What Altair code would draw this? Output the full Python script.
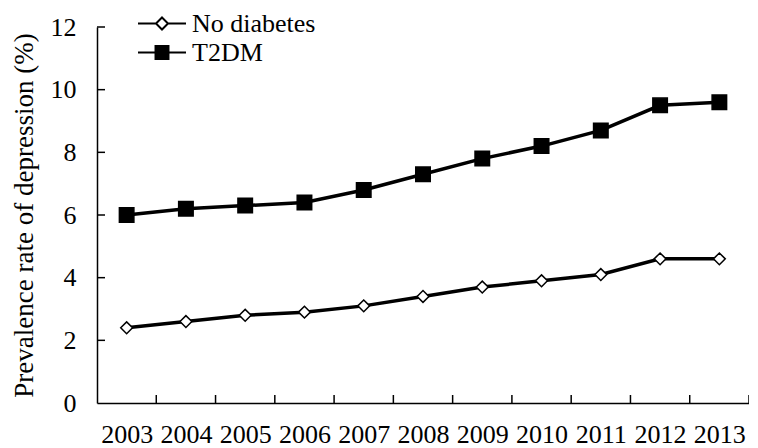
import altair as alt
import pandas as pd

# ---- data ----
years = [2003, 2004, 2005, 2006, 2007, 2008, 2009, 2010, 2011, 2012, 2013]
no_diabetes = [2.4, 2.6, 2.8, 2.9, 3.1, 3.4, 3.7, 3.9, 4.1, 4.6, 4.6]
t2dm = [6.0, 6.2, 6.3, 6.4, 6.8, 7.3, 7.8, 8.2, 8.7, 9.5, 9.6]
series_names = ["No diabetes", "T2DM"]
y_tick_values = [0, 2, 4, 6, 8, 10, 12]
y_inner_ticks = [2, 4, 6, 8, 10, 12]
x_tick_bounds = [2003.5, 2004.5, 2005.5, 2006.5, 2007.5, 2008.5,
                 2009.5, 2010.5, 2011.5, 2012.5, 2013.5]
x_domain = [2002.5, 2013.5]
y_domain = [0, 12]

df = pd.DataFrame({
    "year": years * 2,
    "rate": no_diabetes + t2dm,
    "series": [series_names[0]] * len(years) + [series_names[1]] * len(years),
})

FONT = "'Liberation Serif', 'Times New Roman', serif"
W, H = 652, 376

x_enc = alt.X(
    "year:Q",
    scale=alt.Scale(domain=x_domain, nice=False, zero=False),
    axis=alt.Axis(values=years, format="d", ticks=False, grid=False,
                  labelFont=FONT, labelFontSize=26, labelColor="black",
                  labelPadding=18, labelOverlap=False, labelFlush=False,
                  domainColor="black", domainWidth=1.5, title=None),
)
y_enc = alt.Y(
    "rate:Q",
    scale=alt.Scale(domain=y_domain, nice=False),
    axis=alt.Axis(values=y_tick_values, ticks=False, grid=False,
                  labelFont=FONT, labelFontSize=26, labelColor="black",
                  labelPadding=21, domainColor="black", domainWidth=1.5,
                  title="Prevalence rate of depression (%)",
                  titleFont=FONT, titleFontSize=27, titleFontWeight="normal",
                  titleColor="black", titlePadding=12),
)

base = alt.Chart(df)

lines = base.mark_line(color="black", strokeWidth=3.5).encode(
    x=x_enc, y=y_enc, detail="series:N"
)

is_t2dm = alt.datum.series == "T2DM"
points = base.mark_point(filled=True, opacity=1, strokeWidth=1.5).encode(
    x=x_enc,
    y=y_enc,
    shape=alt.condition(is_t2dm, alt.value("square"), alt.value("diamond")),
    fill=alt.condition(is_t2dm, alt.value("black"), alt.value("white")),
    stroke=alt.value("black"),
    size=alt.condition(is_t2dm, alt.value(210), alt.value(140)),
)

legend_paths = [
    "M-1,0L-0.25,0M0.25,0L1,0M0,-0.25L0.25,0L0,0.25L-0.25,0Z",
    "M-1,0L1,0M-0.27,-0.27L0.27,-0.27L0.27,0.27L-0.27,0.27Z",
]
legend_def = alt.Legend(
    orient="none", legendX=40, legendY=-18, title=None, direction="vertical",
    labelFont=FONT, labelFontSize=26, labelColor="black", labelOffset=5,
    symbolSize=2304, symbolStrokeWidth=2, symbolStrokeColor="black",
    symbolOpacity=1, rowPadding=0, clipHeight=29, padding=0,
)
legend_layer = base.mark_point(filled=True, opacity=0, strokeWidth=2).encode(
    x=x_enc,
    y=y_enc,
    shape=alt.Shape("series:N", scale=alt.Scale(domain=series_names, range=legend_paths),
                    legend=legend_def),
    fill=alt.Fill("series:N", scale=alt.Scale(domain=series_names, range=["white", "black"]),
                  legend=legend_def),
    stroke=alt.Stroke("series:N", scale=alt.Scale(domain=series_names, range=["black", "black"]),
                      legend=legend_def),
)

x_ticks = alt.Chart(pd.DataFrame({"year": x_tick_bounds})).mark_rule(
    color="black", strokeWidth=1.5
).encode(x=x_enc, y=alt.value(H), y2=alt.value(H - 8))

y_ticks = alt.Chart(pd.DataFrame({"rate": y_inner_ticks})).mark_rule(
    color="black", strokeWidth=1.5
).encode(y=y_enc, x=alt.value(0), x2=alt.value(8))

chart = alt.layer(lines, x_ticks, y_ticks, legend_layer, points).properties(
    width=W, height=H,
    autosize=alt.AutoSizeParams(type="none"),
    padding={"left": 89, "top": 19, "right": 0, "bottom": 45},
).configure(font=FONT).configure_legend(
    labelFont=FONT, labelFontSize=26, labelColor="black"
).configure_view(stroke=None)

chart.save("out.html", embed_options={"renderer": "svg", "actions": False})
